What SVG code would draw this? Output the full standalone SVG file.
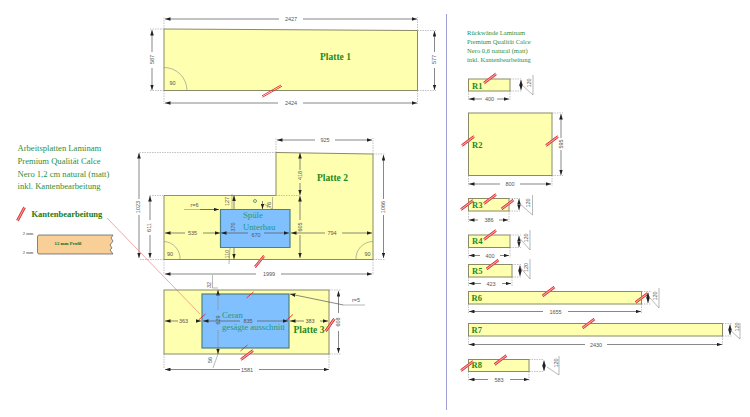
<svg xmlns="http://www.w3.org/2000/svg" width="750" height="417" viewBox="0 0 750 417">
<style>
.p{fill:#ffffb0;stroke:#8a8a66;stroke-width:1}
.c{fill:#80c0ff;stroke:#4f7f80;stroke-width:1.2}
.d{fill:none;stroke:#555;stroke-width:.7;marker-start:url(#a);marker-end:url(#a)}
.e{fill:none;stroke:#999;stroke-width:.6;stroke-dasharray:1.5 1}
.l{fill:none;stroke:#888;stroke-width:.6}
.t{font:5.5px "Liberation Sans",Arial,sans-serif;fill:#555;text-anchor:middle}
.n{font:bold 9.500px "Liberation Serif","Times New Roman",serif;fill:#1a8a1a;text-anchor:middle}
.r{font:bold 8.500px "Liberation Serif","Times New Roman",serif;fill:#1a8a1a}
.g{font:8.600px "Liberation Serif","Times New Roman",serif;fill:#2d8f3a}
.h{font:6.600px "Liberation Serif","Times New Roman",serif;fill:#2d8f3a}
.b{font:8.700px "Liberation Serif","Times New Roman",serif;fill:#1f9a78}
.k{fill:none;stroke:#dc2c30;stroke-width:.9}
</style>
<defs>
<marker id="a" viewBox="0 0 6 4" refX="6" refY="2" markerWidth="5.500" markerHeight="3.800" markerUnits="userSpaceOnUse" orient="auto-start-reverse"><path d="M0 0L6 2L0 4Z" fill="#222"/></marker>
<g id="k"><path d="M-6 4.500L6-4.500" fill="none" stroke="#f0a0a0" stroke-width="2.600"/><path class="k" d="M-6.500 3.700L5.500-5.300M-5.500 5.300L6.500-3.700"/></g>
<g id="kl"><path class="k" d="M-10 4.800L9-6M-9.500 6.200L10-4.800"/></g>
<g id="s"><path class="k" d="M-3.500 3L3.500-3"/></g>
</defs>
<rect width="750" height="417" fill="#fff"/>
<line x1="446.500" y1="14" x2="446.500" y2="410" stroke="#a0a0d4" stroke-width="1"/>

<g id="legend">
<text class="g" x="17.500" y="151">Arbeitsplatten Laminam</text>
<text class="g" x="17.500" y="164">Premium Qualität Calce</text>
<text class="g" x="17.500" y="177">Nero 1,2 cm natural (matt)</text>
<text class="g" x="17.500" y="189">inkl. Kantenbearbeitung</text>
<use href="#k" transform="translate(21 214) rotate(-25)"/>
<text x="31.500" y="217" style="font:bold 8.500px 'Liberation Serif',serif;fill:#1a7a1a">Kantenbearbeitung</text>
<path d="M39 235H113L111 238L113 241L110 245L112 248L110 250L113 254H39Q37.500 254 37.500 252V237Q37.500 235 39 235Z" fill="#f8cf96" stroke="#555" stroke-width=".7"/>
<text x="68" y="245" text-anchor="middle" style="font:bold 4.800px 'Liberation Serif',serif;fill:#1a6a1a">12 mm Profil</text>
<text x="28" y="235" text-anchor="middle" style="font:4.500px 'Liberation Serif',serif;fill:#333">2 mm</text>
<text x="28" y="253.500" text-anchor="middle" style="font:4.500px 'Liberation Serif',serif;fill:#333">2 mm</text>
</g>

<g id="platte1">
<path class="p" d="M164 29L417.500 30.500V90.500H164Z"/>
<path class="l" d="M164 67.500A23 23 0 0 1 187 90.500"/>
<text class="t" x="172.500" y="84.500">90</text>
<text class="n" x="335.500" y="60">Platte 1</text>
<use href="#kl" x="272" y="91"/>
</g>
<g id="platte2">
<path class="p" d="M164 195.500H276V152.500L373 154V259.500H164Z"/>
<path class="c" d="M220.500 209.500H290V247.500H220.500Z"/>
<path class="l" d="M164 241.500A17 17 0 0 1 180 259.500M373 241.500A17 17 0 0 0 356 259.500"/>
<text class="t" x="170" y="255.500">90</text>
<text class="t" x="367.500" y="255.500">90</text>
<text class="n" x="332.500" y="180.500">Platte 2</text>
<text class="b" x="243" y="218">Spüle</text>
<text class="b" x="243" y="230">Unterbau</text>
<circle cx="255" cy="201" r="1.500" fill="none" stroke="#3a8a6a" stroke-width=".8"/>
<use href="#k" transform="translate(259.500 261.500) scale(.85,1.05) rotate(-8)"/>
</g>
<g id="platte3">
<rect class="p" x="164" y="290" width="165" height="64"/>
<rect class="c" x="202" y="294" width="87" height="54"/>
<text class="b" x="222" y="318">Ceran</text>
<text class="b" x="222" y="330">gesägte ausschnitt</text>
<text class="n" x="309" y="333">Platte 3</text>
<use href="#k" transform="translate(330 325) rotate(-18)"/>
<use href="#s" transform="translate(250 295)"/>
<use href="#s" transform="translate(244 348)"/>
<use href="#k" x="247" y="355"/>
<use href="#s" transform="translate(202 317)"/>
<use href="#s" transform="translate(289.500 317.500)"/>
</g>

<g id="connectors">
<path class="e" d="M164 29V17M417.500 30.500V17M164 29H150M417.500 30.500H436M164 90.500H150M417.500 90.500H436M164 90.500V104M417.500 90.500V104"/>
<path class="d" d="M165 19H279M303 19H417"/><text class="t" x="291" y="20.500">2427</text>
<path class="d" d="M165 103H278M303 103H417"/><text class="t" x="291" y="105">2424</text>
<path class="d" d="M152 30V52M152 68V90"/><text class="t" transform="translate(153.500 59.500) rotate(-90)">587</text>
<path class="d" d="M434.500 31V52M434.500 68V90"/><text class="t" transform="translate(436 59.500) rotate(-90)">577</text>

<path class="e" d="M276 152.500H139M276 195.500H149M276 152.500V138M373 154V138M373 154H385M373 259.500H385M164 259.500H139M164 259.500V275M373 259.500V275M276 195.500H300"/>
<path class="d" d="M277 140H315M335 140H372"/><text class="t" x="325" y="141.500">925</text>
<path class="d" d="M139 153V199M139 215V258"/><text class="t" transform="translate(140 207) rotate(-90)">1023</text>
<path class="d" d="M150 196V220M150 235V258"/><text class="t" transform="translate(151 227.500) rotate(-90)">611</text>
<path class="d" d="M383.500 155V199M383.500 215V258"/><text class="t" transform="translate(385 207) rotate(-90)">1066</text>
<path class="d" d="M300 153V170M300 183V195"/><text class="t" transform="translate(302 175.500) rotate(-90)">418</text>
<path class="d" d="M300 196V220M300 235V258"/><text class="t" transform="translate(302 227) rotate(-90)">605</text>
<path class="d" d="M165 233H185M203 233H220"/><text class="t" x="192.500" y="235">535</text>
<path class="d" d="M221 233H248M264 233H289"/><text class="t" x="256" y="237">670</text>
<path class="d" d="M291 233H325M342 233H372"/><text class="t" x="332" y="235">794</text>
<path class="d" d="M165 274H256M281 274H372"/><text class="t" x="269" y="276">1999</text>
<path class="d" d="M234 195.500V209M234 248V259"/>
<path class="l" d="M184 209.500H219"/><path class="d" d="M200 209.500H219" style="marker-start:none"/><text class="t" x="194.500" y="207">r=6</text>
<path class="l" d="M232 194V209M230 248L229 264"/>
<text class="t" transform="translate(229 201.500) rotate(-90)">127</text>
<text class="t" transform="translate(234.700 227) rotate(-90)">370</text>
<text class="t" transform="translate(228.700 254) rotate(-90)">110</text>
<path class="d" d="M262.500 201V209" style="marker-start:none"/>
<path class="l" d="M264 204L272.500 209V197"/>
<text class="t" transform="translate(271 205) rotate(-90)">76</text>
<path class="l" d="M212.500 275V288H218"/>
<text class="t" transform="translate(211 285) rotate(-90)">32</text>
<path class="d" d="M218 290V294M218 348V354"/>
<path class="l" d="M218 294V310M218 330V348"/>
<text class="t" transform="translate(219.700 320) rotate(-90)">629</text>
<path class="l" d="M218 354L213 368"/>
<text class="t" transform="translate(212 360) rotate(-90)">56</text>
<path class="e" d="M164 354V369M329 354V369M329 290H341M329 354H341"/>
<path class="d" d="M165 369.500H240M259 369.500H329"/><text class="t" x="247" y="371.500">1581</text>
<path class="d" d="M338.500 291V313M338.500 331V353"/><text class="t" transform="translate(340 322) rotate(-90)">608</text>
<path class="d" d="M165 321H178M196 321H201"/><text class="t" x="183.500" y="322.500">363</text>
<path class="d" d="M203 321H240M257 321H288"/><text class="t" x="248" y="322.500">835</text>
<path class="d" d="M290 321H304M320 321H328"/><text class="t" x="310" y="322.500">383</text>
<path class="d" d="M343.500 305L290 294" style="marker-start:none"/><path class="l" d="M343.500 305H365"/><text class="t" x="356" y="302">r=5</text>
<path d="M107 218L200 314" fill="none" stroke="#e07070" stroke-width=".6"/>
</g>

<g id="rueckwaende">
<text class="h" x="467" y="34.500">Rückwände Laminam</text>
<text class="h" x="467" y="43.500">Premium Qualität Calce</text>
<text class="h" x="467" y="52.500">Nero 0,6 natural (matt)</text>
<text class="h" x="467" y="62">inkl. Kantenbearbeitung</text>
</g>
<g id="r1"><rect class="p" x="468.500" y="79" width="41.500" height="12"/><text class="r" x="472" y="89">R1</text><use href="#k" x="490" y="78.500"/>
<path class="e" d="M510 79H522M510 91H522M468.500 91V101M510 91V101"/><path class="d" d="M521 80V90"/><path class="l" d="M522 85L533 95V75"/><text class="t" transform="translate(531 83) rotate(-90)">120</text>
<path class="d" d="M469 99H482M497 99H509"/><text class="t" x="489.500" y="101">400</text></g>
<g id="r2"><rect class="p" x="468.500" y="113" width="83.500" height="62.500"/><text class="r" x="472" y="148">R2</text><use href="#k" x="468" y="141"/><use href="#k" x="552" y="141"/>
<path class="e" d="M552 113H563M552 175.500H563M468.500 175.500V186M552 175.500V186"/><path class="d" d="M561 114V138M561 150V175"/><text class="t" transform="translate(563 144) rotate(-90)">595</text>
<path class="d" d="M469 184H500M520 184H551"/><text class="t" x="510" y="186">800</text></g>
<g id="r3"><rect class="p" x="468.500" y="198.500" width="40.500" height="12.500"/><text class="r" x="472" y="208">R3</text><use href="#k" x="467" y="205"/><use href="#k" x="490" y="199"/><use href="#k" x="507.500" y="204.500"/>
<path class="e" d="M509 198.500H520M509 211H520M468.500 211V222M509 211V222"/><path class="d" d="M519 199V210"/><path class="l" d="M520 204L532.500 215V195"/><text class="t" transform="translate(529.500 203) rotate(-90)">120</text>
<path class="d" d="M469 220H478M499 220H508"/><text class="t" x="489" y="222">386</text></g>
<g id="r4"><rect class="p" x="468.500" y="235" width="41.500" height="12.500"/><text class="r" x="472" y="244">R4</text><use href="#k" x="490" y="235"/>
<path class="e" d="M510 235H521M510 247.500H521M468.500 247.500V258M510 247.500V258"/><path class="d" d="M519 236V247"/><path class="l" d="M518.500 237L530 250V230"/><text class="t" transform="translate(528 238) rotate(-90)">120</text>
<path class="d" d="M469 255.500H480M500 255.500H509"/><text class="t" x="490" y="257.500">400</text></g>
<g id="r5"><rect class="p" x="468.500" y="264.500" width="43.500" height="12.500"/><text class="r" x="472" y="273.500">R5</text><use href="#k" x="492.500" y="264.500"/>
<path class="e" d="M512 264.500H522M512 277H522M468.500 277V287M512 277V287"/><path class="d" d="M520 265.500V276"/><path class="l" d="M519 266L530 279V259"/><text class="t" transform="translate(528 267.500) rotate(-90)">120</text>
<path class="d" d="M469 283.500H481M502 283.500H511"/><text class="t" x="491" y="285.500">423</text></g>
<g id="r6"><rect class="p" x="468.500" y="291.500" width="173" height="12.500"/><text class="r" x="471.500" y="300.500">R6</text><use href="#k" x="548.500" y="291.500"/><use href="#k" x="641.500" y="298"/>
<path class="e" d="M641.500 291.500H651M641.500 304H651M468.500 304V314M641.500 304V314"/><path class="d" d="M648 292.500V303"/><path class="l" d="M650 298L659 308V288"/><text class="t" transform="translate(657 296) rotate(-90)">120</text>
<path class="d" d="M469 311.500H543M568 311.500H641"/><text class="t" x="555.500" y="313.500">1655</text></g>
<g id="r7"><rect class="p" x="468.500" y="323.500" width="254" height="12.500"/><text class="r" x="471.500" y="333">R7</text><use href="#k" x="588.500" y="323.500"/>
<path class="e" d="M722.500 323.500H732M722.500 336H732M468.500 336V345M722.500 336V345"/><path class="d" d="M730 324.500V335"/><path class="l" d="M730 330L740 339V323"/><text class="t" transform="translate(738.500 327) rotate(-90)">120</text>
<path class="d" d="M469 344.500H585M607 344.500H722"/><text class="t" x="596" y="346.500">2430</text></g>
<g id="r8"><rect class="p" x="468.500" y="359.500" width="60.500" height="12"/><text class="r" x="471.500" y="367.500">R8</text><use href="#k" x="467" y="366"/><use href="#k" x="500.500" y="360"/>
<path class="e" d="M529 359.500H544M529 371.500H544M468.500 371.500V381M529 371.500V381"/><path class="d" d="M544 360.500V371"/><path class="l" d="M547 367L559 375V356"/><text class="t" transform="translate(557.500 363) rotate(-90)">120</text>
<path class="d" d="M469 379.500H488M510 379.500H529"/><text class="t" x="499" y="381.500">583</text></g>
</svg>
